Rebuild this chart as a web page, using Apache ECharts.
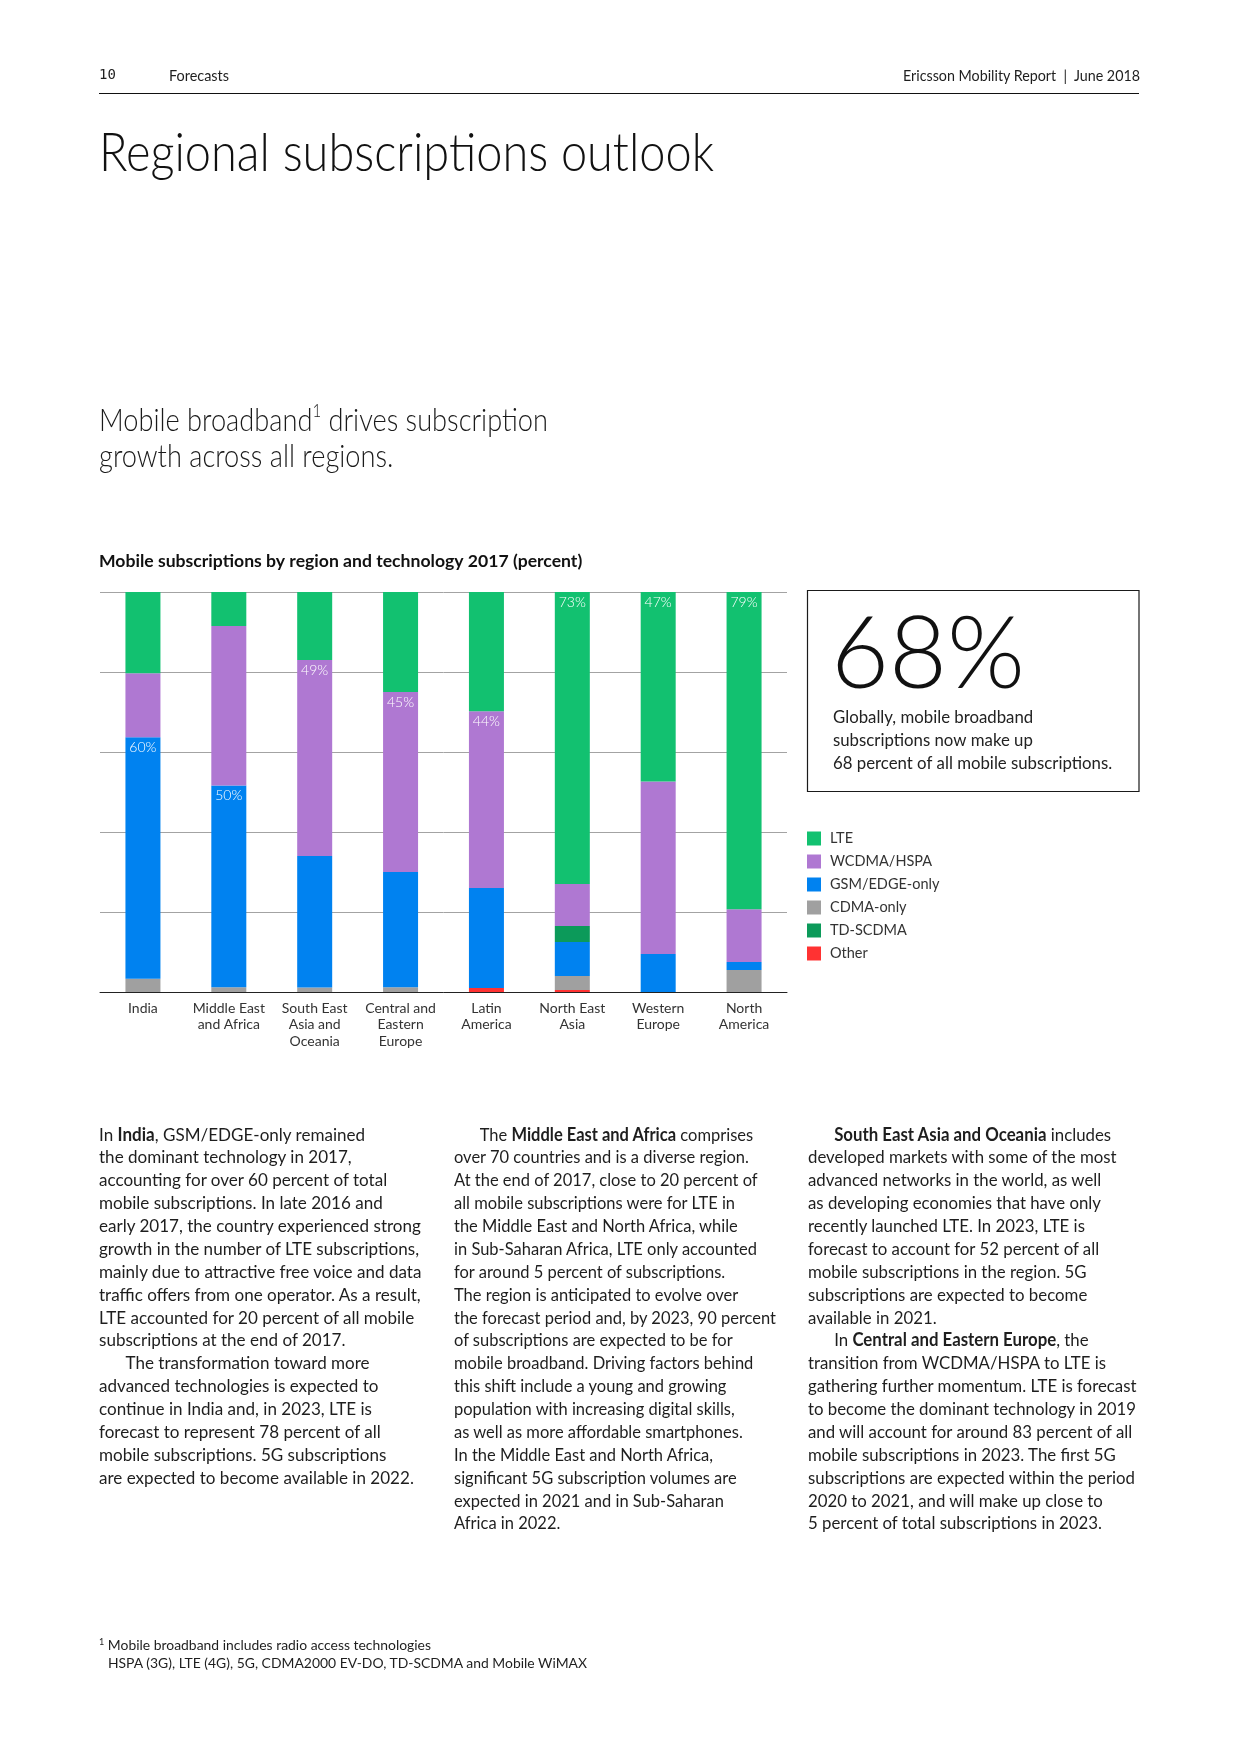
<!DOCTYPE html>
<html><head><meta charset="utf-8">
<script src="https://cdn.jsdelivr.net/npm/echarts/dist/echarts.min.js"></script>
<style>
html,body{margin:0;padding:0;background:#fff;}
#page{position:relative;width:1240px;height:1754px;overflow:hidden;font-family:Lato,'Noto Sans',sans-serif;color:#1e1e1e;}
#chart{position:absolute;left:0;top:0;width:1240px;height:1754px;}
.t{position:absolute;white-space:nowrap;transform-origin:0 0;}
.t div{white-space:nowrap;}
b{font-weight:700;}
.ind{padding-left:28px;}
.sup{font-size:55%;vertical-align:baseline;position:relative;top:-0.8em;line-height:0;}
</style></head>
<body><div id="page">
<div id="chart"></div>

<div class="t" style="left:99px;top:66px;font:14px 'DejaVu Sans Mono';line-height:17px;color:#222;">10</div>
<div class="t" data-fit="60" style="left:169px;top:66px;font-size:15px;line-height:18px;">Forecasts</div>
<div class="t" data-fit="237" data-right="1139.5" style="left:902px;top:66px;font-size:15px;line-height:18px;">Ericsson Mobility Report&nbsp; |&nbsp; June 2018</div>
<div style="position:absolute;left:99px;top:93px;width:1040px;height:1px;background:#111;"></div>

<div class="t" data-fit="615" style="left:99px;top:124px;font-size:54px;font-weight:300;line-height:54px;color:#111;">Regional subscriptions outlook</div>

<div class="t" data-fit="449" data-ref="0" style="left:99px;top:401px;font-size:31px;font-weight:300;line-height:36px;color:#1a1a1a;">
<div>Mobile broadband<span class="sup">1</span> drives subscription</div>
<div>growth across all regions.</div>
</div>

<div class="t" data-fit="320" data-ref="5" style="left:99.4px;top:1122.6px;font-size:18px;line-height:22.87px;">
<div>In <b>India</b>, GSM/EDGE-only remained</div>
<div>the dominant technology in 2017,</div>
<div>accounting for over 60 percent of total</div>
<div>mobile subscriptions. In late 2016 and</div>
<div>early 2017, the country experienced strong</div>
<div>growth in the number of LTE subscriptions,</div>
<div>mainly due to attractive free voice and data</div>
<div>traffic offers from one operator. As a result,</div>
<div>LTE accounted for 20 percent of all mobile</div>
<div>subscriptions at the end of 2017.</div>
<div class="ind">The transformation toward more</div>
<div>advanced technologies is expected to</div>
<div>continue in India and, in 2023, LTE is</div>
<div>forecast to represent 78 percent of all</div>
<div>mobile subscriptions. 5G subscriptions</div>
<div>are expected to become available in 2022.</div>
</div>

<div class="t" data-fit="322" data-ref="8" style="left:453.5px;top:1122.6px;font-size:18px;line-height:22.87px;">
<div class="ind">The <b>Middle East and Africa</b> comprises</div>
<div>over 70 countries and is a diverse region.</div>
<div>At the end of 2017, close to 20 percent of</div>
<div>all mobile subscriptions were for LTE in</div>
<div>the Middle East and North Africa, while</div>
<div>in Sub-Saharan Africa, LTE only accounted</div>
<div>for around 5 percent of subscriptions.</div>
<div>The region is anticipated to evolve over</div>
<div>the forecast period and, by 2023, 90 percent</div>
<div>of subscriptions are expected to be for</div>
<div>mobile broadband. Driving factors behind</div>
<div>this shift include a young and growing</div>
<div>population with increasing digital skills,</div>
<div>as well as more affordable smartphones.</div>
<div>In the Middle East and North Africa,</div>
<div>significant 5G subscription volumes are</div>
<div>expected in 2021 and in Sub-Saharan</div>
<div>Africa in 2022.</div>
</div>

<div class="t" data-fit="328.5" data-ref="11" style="left:807.7px;top:1122.6px;font-size:18px;line-height:22.87px;">
<div class="ind"><b>South East Asia and Oceania</b> includes</div>
<div>developed markets with some of the most</div>
<div>advanced networks in the world, as well</div>
<div>as developing economies that have only</div>
<div>recently launched LTE. In 2023, LTE is</div>
<div>forecast to account for 52 percent of all</div>
<div>mobile subscriptions in the region. 5G</div>
<div>subscriptions are expected to become</div>
<div>available in 2021.</div>
<div class="ind">In <b>Central and Eastern Europe</b>, the</div>
<div>transition from WCDMA/HSPA to LTE is</div>
<div>gathering further momentum. LTE is forecast</div>
<div>to become the dominant technology in 2019</div>
<div>and will account for around 83 percent of all</div>
<div>mobile subscriptions in 2023. The first 5G</div>
<div>subscriptions are expected within the period</div>
<div>2020 to 2021, and will make up close to</div>
<div>5 percent of total subscriptions in 2023.</div>
</div>

<div class="t" data-fit="488" data-ref="1" style="left:99px;top:1636px;font-size:14px;line-height:17.5px;">
<div><span class="sup" style="font-size:65%;top:-0.6em;">1</span> Mobile broadband includes radio access technologies</div>
<div style="padding-left:9px;">HSPA (3G), LTE (4G), 5G, CDMA2000 EV-DO, TD-SCDMA and Mobile WiMAX</div>
</div>
</div>

<script>
// ---- data ----
var categories = ['India', 'Middle East\nand Africa', 'South East\nAsia and\nOceania', 'Central and\nEastern\nEurope', 'Latin\nAmerica', 'North East\nAsia', 'Western\nEurope', 'North\nAmerica'];
var lte     = [20.3, 8.5, 17.0, 25.0, 29.8, 73.0, 47.4, 79.3];
var wcdma   = [16.0, 39.9, 49.0, 45.0, 44.2, 10.5, 43.1, 13.2];
var gsm     = [60.4, 50.4, 32.9, 28.8, 25.0, 8.5, 9.5, 2.0];
var tdscdma = [0, 0, 0, 0, 0, 4.0, 0, 0];
var cdma    = [3.3, 1.2, 1.1, 1.2, 0, 3.5, 0, 5.5];
var other   = [0, 0, 0, 0, 1.0, 0.5, 0, 0];
var yTicks  = [0, 20, 40, 60, 80, 100];

var seriesDefs = [
  {name: 'Other', data: other, color: '#FF3232'},
  {name: 'CDMA-only', data: cdma, color: '#A0A0A0'},
  {name: 'GSM/EDGE-only', data: gsm, color: '#0082F0'},
  {name: 'TD-SCDMA', data: tdscdma, color: '#0C9A5A'},
  {name: 'WCDMA/HSPA', data: wcdma, color: '#AF78D2'},
  {name: 'LTE', data: lte, color: '#12C170'}
];
var legendOrder = ['LTE', 'WCDMA/HSPA', 'GSM/EDGE-only', 'CDMA-only', 'TD-SCDMA', 'Other'];

function isLargest(si, di) {
  var v = seriesDefs[si].data[di];
  for (var k = 0; k < seriesDefs.length; k++) { if (seriesDefs[k].data[di] > v) return false; }
  return true;
}

var chart = echarts.init(document.getElementById('chart'), null, {renderer: 'canvas'});
var option = {
  animation: false,
  textStyle: {fontFamily: 'Lato'},
  title: {
    text: 'Mobile subscriptions by region and technology 2017 (percent)',
    left: 99, top: 551, padding: 0,
    textStyle: {fontFamily: 'Lato', fontSize: 17.6, fontWeight: 700, color: '#111', lineHeight: 20}
  },
  grid: {left: 100, top: 592, width: 687, height: 400, containLabel: false},
  xAxis: {
    type: 'category', data: categories,
    axisLine: {lineStyle: {color: '#222', width: 1}},
    axisTick: {show: false},
    axisLabel: {color: '#333', fontSize: 14, lineHeight: 16.5, margin: 8, fontFamily: 'Lato', interval: 0}
  },
  yAxis: {
    type: 'value', min: yTicks[0], max: yTicks[yTicks.length - 1], interval: yTicks[1] - yTicks[0],
    axisLine: {show: false}, axisTick: {show: false}, axisLabel: {show: false},
    splitLine: {lineStyle: {color: '#a3a3a3', width: 1}}
  },
  legend: {
    data: legendOrder, orient: 'vertical', left: 807, top: 831, padding: 0,
    itemWidth: 14, itemHeight: 14, itemGap: 8, icon: 'rect', selectedMode: false,
    textStyle: {fontSize: 14.5, color: '#333', fontFamily: 'Lato', lineHeight: 14, padding: [0, 0, 0, 4]}
  },
  series: seriesDefs.map(function (s, si) {
    return {
      name: s.name, type: 'bar', stack: 'all', data: s.data, barWidth: 35,
      itemStyle: {color: s.color},
      label: {
        show: true, position: 'insideTop', distance: 3, color: '#fff', fontSize: 14,
        fontFamily: 'Lato', fontWeight: 300,
        formatter: function (p) { return isLargest(si, p.dataIndex) ? Math.round(p.value) + '%' : ''; }
      }
    };
  }),
  graphic: [
    {type: 'rect', shape: {x: 807.5, y: 590.5, width: 331.5, height: 201}, style: {fill: 'none', stroke: '#1a1a1a', lineWidth: 1.2}},
    {type: 'text', style: {x: 831, y: 656, text: '68%', fontSize: 100, fontFamily: 'Lato', fontWeight: 300, fill: '#111', textVerticalAlign: 'middle', verticalAlign: 'middle'}},
    {type: 'text', style: {x: 833, y: 706.5, text: 'Globally, mobile broadband\nsubscriptions now make up\n68 percent of all mobile subscriptions.', fontSize: 16.8, fontFamily: 'Lato', lineHeight: 23, fill: '#222', textVerticalAlign: 'top', verticalAlign: 'top'}}
  ]
};
chart.setOption(option);

function fitAll() {
  var els = document.querySelectorAll('[data-fit]');
  els.forEach(function (el) {
    el.style.transform = 'none';
    var target = parseFloat(el.getAttribute('data-fit'));
    var refIdx = el.getAttribute('data-ref');
    var w;
    if (refIdx !== null) {
      var ref = el.children[parseInt(refIdx, 10)];
      var r = document.createRange(); r.selectNodeContents(ref);
      w = r.getBoundingClientRect().width;
      w += parseFloat(getComputedStyle(ref).paddingLeft) || 0;
    } else {
      var r2 = document.createRange(); r2.selectNodeContents(el);
      w = r2.getBoundingClientRect().width;
    }
    if (w > 0) {
      var s = target / w;
      el.style.transform = 'scaleX(' + s + ')';
      var right = el.getAttribute('data-right');
      if (right) el.style.left = (parseFloat(right) - target) + 'px';
    }
  });
}
fitAll();
if (document.fonts && document.fonts.ready) { document.fonts.ready.then(fitAll); }
</script>
</body></html>
